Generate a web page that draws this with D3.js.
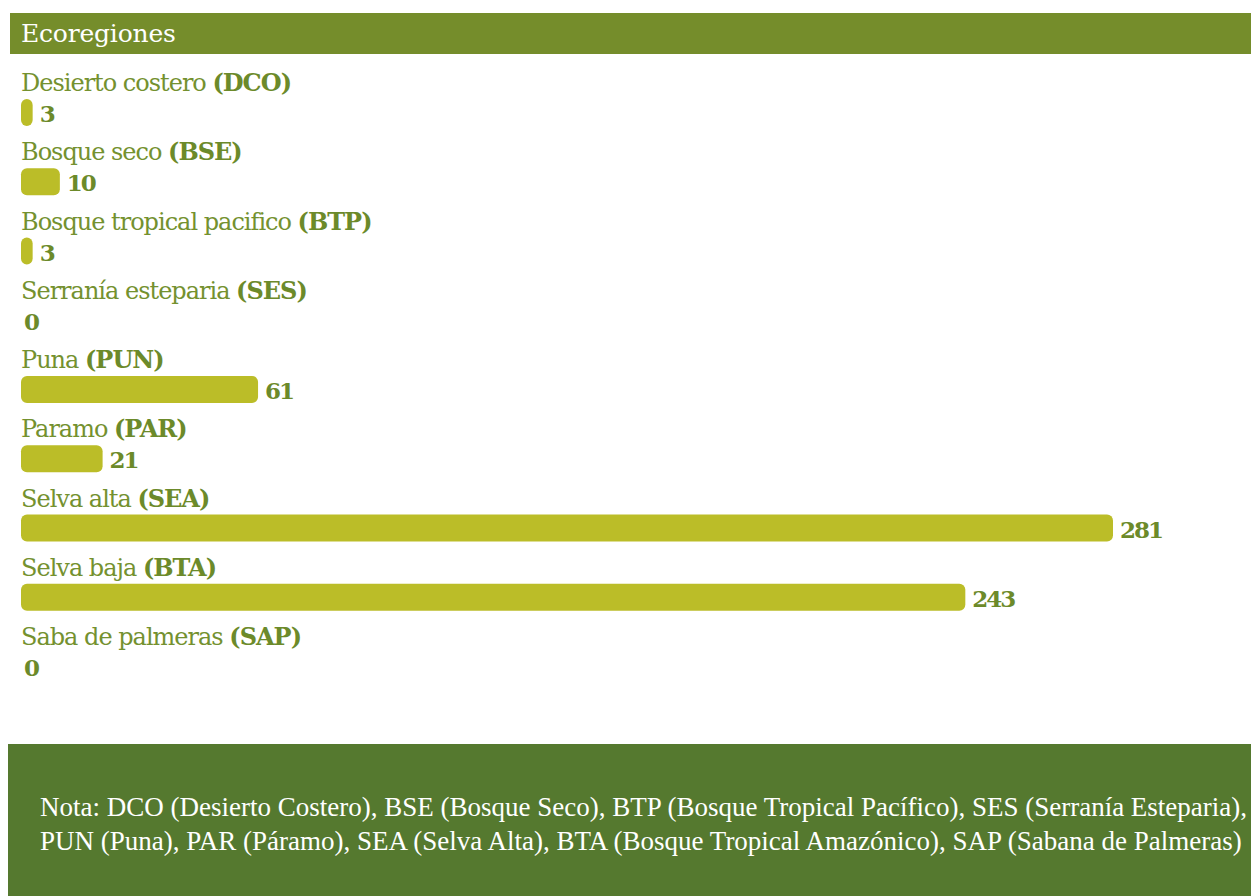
<!DOCTYPE html>
<html>
<head>
<meta charset="utf-8">
<script src="https://cdn.jsdelivr.net/npm/d3@7"></script>
<style>
  html, body { margin: 0; padding: 0; background: #fff; }
  svg { display: block; }
</style>
</head>
<body>
<svg id="chart" width="1251" height="896"></svg>
<script>
const title = "Ecoregiones";
const names = ["Desierto costero", "Bosque seco", "Bosque tropical pacifico", "Serranía esteparia", "Puna", "Paramo", "Selva alta", "Selva baja", "Saba de palmeras"];
const codes = ["DCO", "BSE", "BTP", "SES", "PUN", "PAR", "SEA", "BTA", "SAP"];
const values = [3, 10, 3, 0, 61, 21, 281, 243, 0];
const noteLines = [
  "Nota: DCO (Desierto Costero), BSE (Bosque Seco), BTP (Bosque Tropical Pacífico), SES (Serranía Esteparia),",
  "PUN (Puna), PAR (Páramo), SEA (Selva Alta), BTA (Bosque Tropical Amazónico), SAP (Sabana de Palmeras)"
];

const data = codes.map((c, i) => ({ code: c, name: names[i], value: values[i] }));

const W = 1251, H = 896;
const svg = d3.select("#chart");

const labelFont = "'DejaVu Serif', serif";
const noteFont = "'Liberation Serif', 'Times New Roman', serif";

// header band
svg.append("rect").attr("x", 10).attr("y", 13).attr("width", W - 10).attr("height", 41).attr("fill", "#758d2b");
svg.append("text").attr("x", 21).attr("y", 42)
  .attr("font-family", labelFont).attr("font-size", 25).attr("letter-spacing", -0.2)
  .attr("fill", "#fff").text(title);

const x = d3.scaleLinear().domain([0, d3.max(values)]).range([21, 1113]);
const y = d3.scaleBand().domain(codes).range([99, 99 + 69.25 * codes.length]).paddingInner(0);
const barH = 27;

const g = svg.append("g");
const rows = g.selectAll("g.row").data(data).join("g").attr("class", "row");

const lbl = rows.append("text")
  .attr("x", 21).attr("y", d => y(d.code) - 8)
  .attr("font-family", labelFont).attr("font-size", 24).attr("letter-spacing", -1)
  .attr("fill", "#74912f");
lbl.append("tspan").text(d => d.name + " ");
lbl.append("tspan").attr("font-weight", "bold").attr("fill", "#6c8a2a").text(d => "(" + d.code + ")");

rows.filter(d => d.value > 0).append("rect")
  .attr("x", x(0)).attr("y", d => y(d.code))
  .attr("width", d => x(d.value) - x(0)).attr("height", barH)
  .attr("rx", 6).attr("ry", 6)
  .attr("fill", "#bbbd28");

rows.append("text")
  .attr("x", d => d.value > 0 ? x(d.value) + 7 : x(0) + 3)
  .attr("y", d => y(d.code) + barH / 2 + 9.5)
  .attr("font-family", labelFont).attr("font-size", 23).attr("font-weight", "bold").attr("letter-spacing", -2)
  .attr("fill", "#6c8a2a")
  .text(d => d.value);

// footer note box
svg.append("rect").attr("x", 8).attr("y", 744).attr("width", W - 8).attr("height", H - 744).attr("fill", "#55792f");
svg.selectAll("text.note").data(noteLines).join("text").attr("class", "note")
  .attr("x", 40).attr("y", (d, i) => 816 + i * 34)
  .attr("font-family", noteFont).attr("font-size", 27)
  .attr("fill", "#fff").text(d => d);
</script>
</body>
</html>
